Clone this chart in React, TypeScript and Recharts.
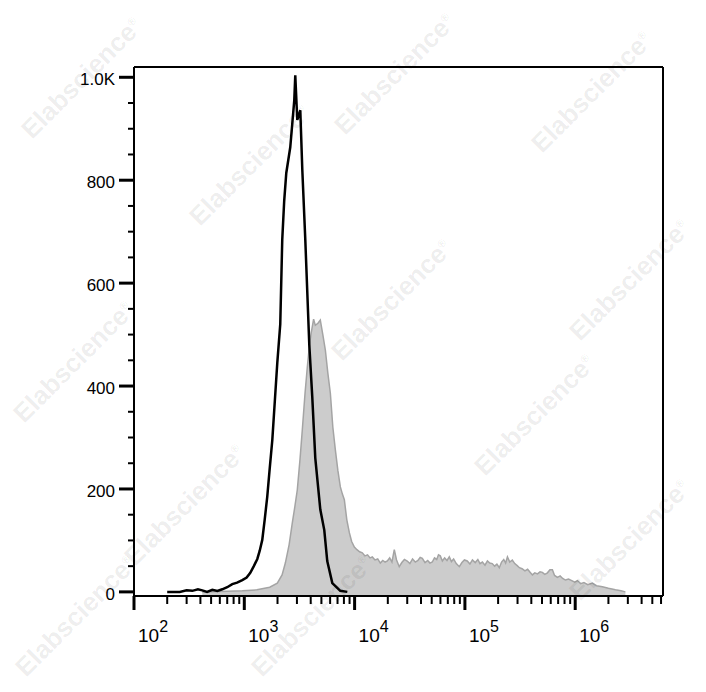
import { ComposedChart, Area, Line, XAxis, YAxis, ReferenceLine } from 'recharts'

// unstained / isotype control (black outline)
const controlHist: [number, number][] = [
  [200, 0], [260, 0], [300, 3], [338, 2], [380, 5], [416, 3], [460, 0], [513, 4], [570, 2],
  [631, 5], [700, 9], [778, 15], [860, 18], [959, 23], [1050, 28], [1133, 37], [1220, 50],
  [1312, 64], [1380, 80], [1455, 101], [1530, 140], [1615, 185], [1700, 240], [1794, 295],
  [1890, 370], [1991, 445], [2118, 520], [2208, 684], [2300, 760], [2402, 814], [2610, 864],
  [2838, 955], [2898, 1004], [3022, 917], [3218, 936], [3357, 820], [3573, 684], [3883, 480],
  [4132, 379], [4401, 260], [4887, 160], [5310, 120], [5649, 60], [6279, 17], [7417, 2], [8590, 0],
]

// stained sample (grey filled)
const stainedHist: [number, number][] = [
  [416, 0], [700, 1], [959, 2], [1300, 4], [1700, 9], [1991, 17], [2200, 33], [2355, 56],
  [2550, 92], [2724, 134], [2870, 165], [3022, 198], [3200, 258], [3357, 315], [3550, 385],
  [3727, 437], [3900, 480], [4053, 505], [4250, 530], [4401, 518], [4650, 522], [4887, 528],
  [5150, 500], [5430, 470], [5720, 425], [6028, 386], [6350, 320], [6690, 276], [7050, 236],
  [7427, 204], [7750, 190], [8071, 179], [8500, 140], [8960, 115], [9400, 98], [9950, 87],
  [10500, 82], [11100, 78], [11750, 76], [12400, 70], [13100, 72], [13800, 66], [14480, 68],
  [15300, 62], [16200, 64], [17100, 56], [18000, 61], [18900, 58], [19800, 60], [20800, 66],
  [21800, 58], [22900, 82], [24000, 62], [25400, 49], [26800, 57], [28300, 63], [30000, 60],
  [31700, 55], [33500, 64], [35500, 58], [37500, 61], [39300, 67], [41100, 65], [43500, 57],
  [46000, 61], [48200, 56], [50600, 58], [53000, 66], [55500, 63], [57600, 72], [59800, 70],
  [62500, 60], [65500, 66], [68800, 61], [72200, 68], [75500, 59], [79000, 64], [83500, 55],
  [89000, 49], [94000, 57], [99000, 62], [105000, 60], [111000, 54], [117000, 62], [124000, 57],
  [131000, 63], [137000, 55], [144000, 58], [152000, 52], [160000, 60], [168000, 56], [177000, 55],
  [186000, 50], [195000, 54], [205000, 47], [215000, 58], [225000, 63], [234000, 56], [243000, 68],
  [255000, 58], [269000, 62], [283000, 55], [298000, 51], [312000, 47], [330000, 45], [350000, 41],
  [370000, 44], [390000, 38], [409000, 33], [430000, 37], [455000, 35], [480000, 39], [504000, 38],
  [530000, 34], [560000, 37], [590000, 43], [621000, 43], [650000, 32], [690000, 28], [730000, 31],
  [770000, 26], [815000, 23], [870000, 25], [930000, 22], [990000, 19], [1047000, 22], [1120000, 16],
  [1200000, 18], [1300000, 14], [1432000, 17], [1560000, 12], [1765000, 10], [2000000, 7],
  [2316000, 4], [2600000, 2], [2850000, 0],
]

const xMin = 100
const xMax = 6.25e6
const yMin = -8
const yMax = 1020

const decades = [2, 3, 4, 5, 6]
const xTicks: number[] = []
decades.forEach(d => {
  for (let k = 1; k <= 9; k++) {
    const v = k * Math.pow(10, d)
    if (v <= xMax) xTicks.push(v)
  }
})

const yMajor = [0, 200, 400, 600, 800, 1000]
const yTicks: number[] = []
for (let v = 0; v <= 1000; v += 50) yTicks.push(v)
const yLabel = (v: number) => (v === 1000 ? '1.0K' : String(v))

// faint diagonal watermarks, kept inside the page
const watermarks = [
  { x: 82, y: 78 }, { x: 395, y: 74 }, { x: 592, y: 92 }, { x: 250, y: 165 },
  { x: 392, y: 300 }, { x: 535, y: 415 }, { x: 74, y: 362 }, { x: 185, y: 505 },
  { x: 630, y: 280 }, { x: 312, y: 616 }, { x: 630, y: 540 }, { x: 76, y: 616 },
]

const rows = [
  ...controlHist.map(([x, y]) => ({ x, control: y } as any)),
  ...stainedHist.map(([x, y]) => ({ x, stained: y } as any)),
].sort((a, b) => a.x - b.x)

const XTick = (props: any) => {
  const { x, y, payload } = props
  const v = payload.value
  const exp = Math.round(Math.log10(v))
  const major = Math.abs(v - Math.pow(10, exp)) < 1e-6 * v
  return (
    <g>
      <line x1={x} x2={x} y1={y} y2={y + (major ? 14 : 8)} stroke="#000" strokeWidth={major ? 3 : 2} />
      {major && (
        <text x={x + 4} y={y + 46} fontSize={19} fill="#000" fontFamily="Liberation Sans, Arial, sans-serif">
          10
          <tspan dy={-10} fontSize={16}>{exp}</tspan>
        </text>
      )}
    </g>
  )
}

const YTick = (props: any) => {
  const { x, y, payload } = props
  const v = payload.value
  const major = yMajor.includes(v)
  return (
    <g>
      <line x1={x} x2={x - (major ? 15 : 6)} y1={y} y2={y} stroke="#000" strokeWidth={major ? 3 : 2} />
      {major && (
        <text x={x - 19} y={y + 8} fontSize={17} textAnchor="end" fill="#000" fontFamily="Liberation Sans, Arial, sans-serif">
          {yLabel(v)}
        </text>
      )}
    </g>
  )
}

export default function App() {
  return (
    <div style={{ position: 'absolute', left: 0, top: 0, width: 706, height: 692, overflow: 'hidden', background: '#fff' }}>
      <div style={{ position: 'absolute', left: 8, top: 8 }}>
        <ComposedChart width={690} height={680} data={rows} margin={{ top: 59, right: 35, bottom: 32, left: 0 }}>
          <XAxis
            dataKey="x"
            type="number"
            scale="log"
            domain={[xMin, xMax]}
            allowDataOverflow
            ticks={xTicks}
            interval={0}
            tick={<XTick />}
            tickLine={false}
            tickSize={0}
            tickMargin={0}
            axisLine={{ stroke: '#000', strokeWidth: 2 }}
            height={60}
          />
          <YAxis
            type="number"
            domain={[yMin, yMax]}
            allowDataOverflow
            ticks={yTicks}
            interval={0}
            tick={<YTick />}
            tickLine={false}
            tickSize={0}
            tickMargin={0}
            axisLine={{ stroke: '#000', strokeWidth: 2 }}
            width={126}
          />
          <ReferenceLine y={yMax} stroke="#000" strokeWidth={2} />
          <ReferenceLine x={xMax} stroke="#000" strokeWidth={2} />
          <Area
            dataKey="stained"
            type="linear"
            stroke="#a4a4a4"
            strokeWidth={1.5}
            fill="#cccccc"
            fillOpacity={1}
            baseValue={yMin}
            connectNulls
            dot={false}
            activeDot={false}
            isAnimationActive={false}
          />
          <Line
            dataKey="control"
            type="linear"
            stroke="#000"
            strokeWidth={2.5}
            connectNulls
            dot={false}
            activeDot={false}
            isAnimationActive={false}
          />
        </ComposedChart>
      </div>
      {watermarks.map((w, i) => (
        <span
          key={i}
          style={{
            position: 'absolute',
            left: w.x,
            top: w.y,
            transform: 'translate(-50%, -50%) rotate(-45deg)',
            fontFamily: 'Liberation Sans, Arial, sans-serif',
            fontWeight: 'bold',
            fontSize: 26,
            color: 'rgba(0,0,0,0.08)',
            whiteSpace: 'nowrap',
            pointerEvents: 'none',
          }}
        >
          Elabscience<sup style={{ fontSize: 11 }}>®</sup>
        </span>
      ))}
    </div>
  )
}
